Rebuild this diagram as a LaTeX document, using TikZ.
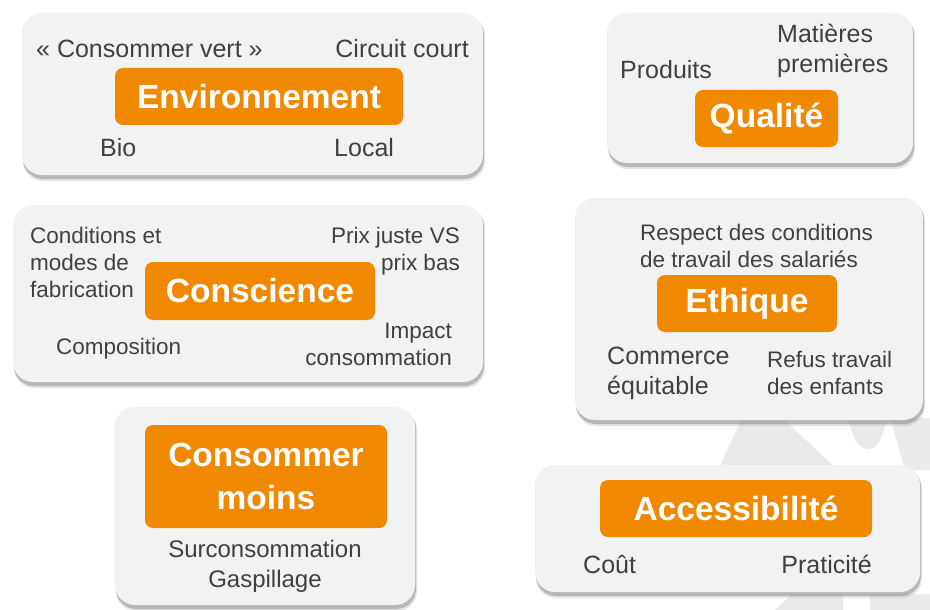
\documentclass[tikz,border=0pt]{standalone}
\usepackage{fontspec}
\setmainfont{Liberation Sans}
\definecolor{tagorange}{RGB}{240,137,0}
\definecolor{panelgray}{RGB}{242,242,242}
\definecolor{inkgray}{RGB}{64,64,64}
\definecolor{logogray}{RGB}{234,234,234}
\def\panel(#1,#2)(#3,#4){%
  \fill[black!30, opacity=0.35, rounded corners=20] (#1+1,#2+3) rectangle (#3+2,#4+6);
  \fill[black!45, opacity=0.5, rounded corners=20] (#1+1,#2+2) rectangle (#3+1,#4+4);
  \fill[panelgray, rounded corners=20] (#1,#2) rectangle (#3,#4);}
\tikzset{
  tag/.style={fill=tagorange, rounded corners=8, text=white, inner sep=0,
    font=\fontsize{33.5}{40}\selectfont\bfseries, align=center},
  word/.style={text=inkgray, inner sep=0, font=\fontsize{25}{30}\selectfont},
  small/.style={word, font=\fontsize{22.5}{27}\selectfont}
}

\begin{document}
\begin{tikzpicture}[x=1pt, y=-1pt]
			%%%%% START %%%%%
			\fill[white] (0,0) rectangle (930,610);
			\useasboundingbox (0,0) rectangle (930,610);
			
			\fill[logogray] (718,470) -- (742,418) -- (782,418) -- (838,470) -- cycle;
			\fill[logogray] (847,418) -- (888,418) -- (880,440) .. controls (875,452) and (862,452) .. (855,440) -- cycle;
			\fill[logogray] (890,418) -- (930,418) -- (930,470) -- (905,470) -- cycle;
			\fill[logogray] (775,610) -- (792,594) -- (843,594) -- (843,610) -- cycle;
			\fill[logogray] (870,594) -- (930,594) -- (930,610) -- (870,610) -- cycle;
			
			\panel(22,13)(483,175)
			\node[tag, minimum width=288, minimum height=57] (envtag) at (259,96.5) {Environnement};
			\node[word, anchor=base west] (green) at (36,58) {« Consommer vert »};
			\node[word, anchor=base east] (short) at (469,58) {Circuit court};
			\node[word, anchor=base west] (bio) at (100,157) {Bio};
			\node[word, anchor=base west] (local) at (334,157) {Local};
			
			\panel(607,13)(913,163)
			\node[tag, minimum width=143, minimum height=57] (qualtag) at (766.5,118.5) {Qualité};
			\node[word, anchor=base west] (products) at (620,78) {Produits};
			\node[word, anchor=base west, align=left] (materials) at (777,73) {Matières\\premières};
			
			\panel(13,205)(483,382)
			\node[tag, minimum width=230, minimum height=58] (conscitag) at (260,291) {Conscience};
			\node[small, anchor=base west, align=left] (making) at (30,297) {Conditions et\\modes de\\fabrication};
			\node[small, anchor=base east, align=right] (price) at (460,270) {Prix juste VS\\prix bas};
			\node[small, anchor=base west] (content) at (56,354) {Composition};
			\node[small, anchor=base east, align=right] (impact) at (452,365) {Impact\\consommation};
			
			\panel(575,198)(923,420)
			\node[tag, minimum width=180, minimum height=57] (ethictag) at (747,303.5) {Ethique};
			\node[small, anchor=base west, align=left] (labour) at (640,267) {Respect des conditions\\de travail des salariés};
			\node[word, anchor=base west, align=left] (fairtrade) at (607,394) {Commerce\\équitable};
			\node[small, anchor=base west, align=left] (childwork) at (767,394) {Refus travail\\des enfants};
			
			\panel(115,407)(415,605)
			\node[tag, minimum width=242, minimum height=103, font=\fontsize{33.5}{43}\selectfont\bfseries] (lesstag) at (266,476.5) {Consommer\\moins};
			\node[word, anchor=base, align=center, font=\fontsize{24}{30}\selectfont] (waste) at (265,587) {Surconsommation\\Gaspillage};
			
			\panel(535,465)(920,592)
			\node[tag, minimum width=272, minimum height=57] (accesstag) at (736,508.5) {Accessibilité};
			\node[word, anchor=base west] (cost) at (583,573) {Coût};
			\node[word, anchor=base east] (ease) at (872,573) {Praticité};
			
			%%%%% END %%%%%
\end{tikzpicture}
\end{document}
